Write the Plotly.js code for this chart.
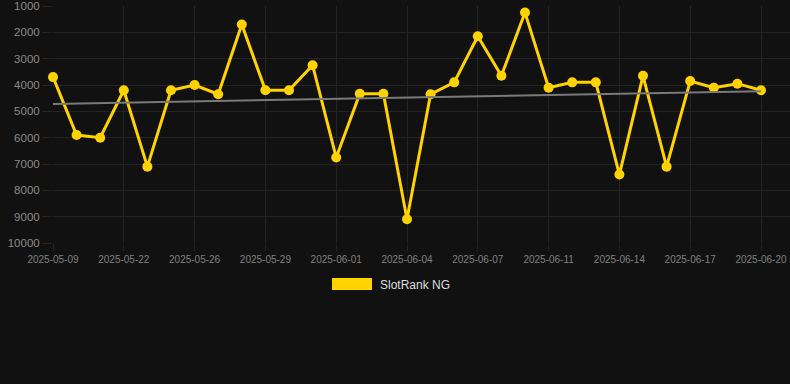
<!DOCTYPE html>
<html>
<head>
<meta charset="utf-8">
<script src="https://cdn.plot.ly/plotly-3.0.1.min.js"></script>
<style>
  html, body { margin: 0; padding: 0; background: #111111; }
  #chart { width: 790px; height: 384px; }
</style>
</head>
<body>
<div id="chart"></div>
<script>
// ---- Data ----
const dates = [
  "2025-05-09","2025-05-10","2025-05-21","2025-05-22","2025-05-23","2025-05-25",
  "2025-05-26","2025-05-27","2025-05-28","2025-05-29","2025-05-30","2025-05-31",
  "2025-06-01","2025-06-02","2025-06-03","2025-06-04","2025-06-05","2025-06-06",
  "2025-06-07","2025-06-08","2025-06-10","2025-06-11","2025-06-12","2025-06-13",
  "2025-06-14","2025-06-15","2025-06-16","2025-06-17","2025-06-18","2025-06-19",
  "2025-06-20"
];
const rankValues = [
  3700, 5900, 6000, 4200, 7100, 4200,
  4000, 4350, 1700, 4200, 4200, 3250,
  6750, 4330, 4330, 9100, 4350, 3900,
  2150, 3650, 1250, 4100, 3900, 3900,
  7400, 3650, 7100, 3850, 4100, 3950,
  4200
];
const seriesName = "SlotRank NG";
const yTicks = [1000, 2000, 3000, 4000, 5000, 6000, 7000, 8000, 9000, 10000];

// Tick labels every third category
const xTickVals = dates.filter((d, i) => i % 3 === 0);

// Linear trend (least squares) derived from the series
const n = rankValues.length;
const idx = rankValues.map((v, i) => i);
const mx = idx.reduce((a, b) => a + b, 0) / n;
const my = rankValues.reduce((a, b) => a + b, 0) / n;
let sxy = 0, sxx = 0;
idx.forEach((x, i) => { sxy += (x - mx) * (rankValues[i] - my); sxx += (x - mx) * (x - mx); });
const slope = sxy / sxx;
const intercept = my - slope * mx;
const trendValues = [intercept, intercept + slope * (n - 1)];
const trendDates = [dates[0], dates[n - 1]];

const FONT = "Liberation Sans, Arial, Helvetica, sans-serif";
const GRID = "#232323";
const GOLD = "#FFD200";

const traces = [
  {
    x: dates, y: rankValues, type: "scatter", mode: "lines+markers",
    name: seriesName,
    line: { color: GOLD, width: 3 },
    marker: { color: GOLD, size: 10 },
    showlegend: false, cliponaxis: false
  },
  {
    x: trendDates, y: trendValues, type: "scatter", mode: "lines",
    line: { color: "#7a7a7a", width: 2 },
    hoverinfo: "skip", showlegend: false, cliponaxis: false
  }
];

// Plot area: x 53..790 px, y 6..243 px
const plotL = 53, plotR = 790, plotT = 6, plotB = 243;
const pw = plotR - plotL, ph = plotB - plotT;
const px = v => (v - plotL) / pw;
const py = v => (plotB - v) / ph;

const layout = {
  width: 790, height: 384,
  margin: { l: plotL, r: 790 - plotR, t: plotT, b: 384 - plotB },
  paper_bgcolor: "#111111",
  plot_bgcolor: "#111111",
  showlegend: false,
  font: { family: FONT, color: "#888888" },
  xaxis: {
    type: "category",
    categoryorder: "array", categoryarray: dates,
    range: [0, (n - 1) + (plotR - 761) / 23.6],
    tickmode: "array", tickvals: xTickVals, ticktext: xTickVals,
    showgrid: true, gridcolor: GRID, gridwidth: 1,
    ticks: "outside", ticklen: 7, tickcolor: GRID, tickwidth: 1,
    tickfont: { family: FONT, size: 10, color: "#808080" },
    tickangle: 0,
    zeroline: false, showline: false
  },
  yaxis: {
    range: [10000, 1000],
    tickmode: "array", tickvals: yTicks, ticktext: yTicks.map(String),
    showgrid: true, gridcolor: GRID, gridwidth: 1,
    ticks: "outside", ticklen: 10, tickcolor: GRID, tickwidth: 1,
    tickfont: { family: FONT, size: 11.5, color: "#8a8a8a" },
    zeroline: false, showline: false
  },
  shapes: [
    {
      type: "rect", xref: "paper", yref: "paper",
      x0: px(332), x1: px(372), y0: py(290), y1: py(278),
      fillcolor: GOLD, line: { width: 0 }
    }
  ],
  annotations: [
    {
      xref: "paper", yref: "paper", x: px(378), y: py(284.5),
      xanchor: "left", yanchor: "middle", showarrow: false,
      text: seriesName,
      font: { family: FONT, size: 12, color: "#dddddd" }
    }
  ]
};

Plotly.newPlot("chart", traces, layout, { displayModeBar: false, staticPlot: true });
</script>
</body>
</html>
